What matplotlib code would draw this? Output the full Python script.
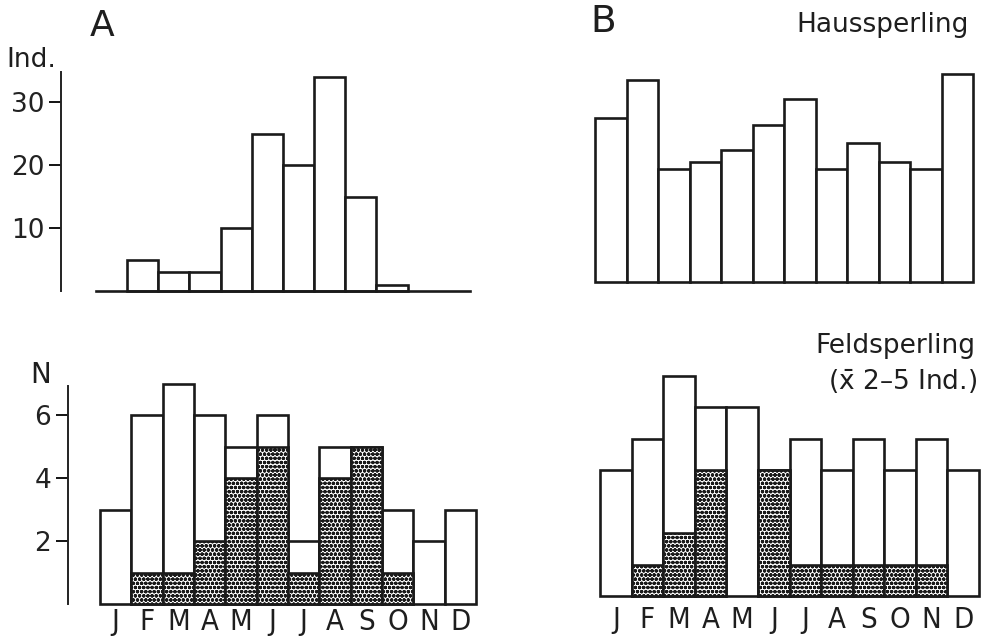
import matplotlib
matplotlib.use("Agg")
import matplotlib.pyplot as plt
import numpy as np

plt.rcParams["font.family"] = ["DejaVu Sans"]
plt.rcParams["mathtext.fontset"] = "dejavusans"
plt.rcParams["hatch.linewidth"] = 1.2

months = ["J", "F", "M", "A", "M", "J", "J", "A", "S", "O", "N", "D"]

# A: Haussperling individuals (Ind.)
a_ind = [0, 5, 3, 3, 10, 25, 20, 34, 15, 1, 0, 0]
# B: Haussperling, second site (same scale)
b_ind = [26, 32, 18, 19, 21, 25, 29, 18, 22, 19, 18, 33]
# bottom left: N total / hatched part
nl_total = [3, 6, 7, 6, 5, 6, 2, 5, 5, 3, 2, 3]
nl_hatch = [0, 1, 1, 2, 4, 5, 1, 4, 5, 1, 0, 0]
# bottom right: Feldsperling
nr_total = [4, 5, 7, 6, 6, 4, 5, 4, 5, 4, 5, 4]
nr_hatch = [0, 1, 2, 4, 0, 4, 1, 1, 1, 1, 1, 0]

W, H = 982, 639
fig = plt.figure(figsize=(W / 100, H / 100), dpi=100)
fig.patch.set_facecolor("white")


def make_ax(x0, x1, y_bot, y_top, xlim, ylim):
    ax = fig.add_axes([x0 / W, 1 - y_bot / H, (x1 - x0) / W, (y_bot - y_top) / H])
    ax.set_xlim(*xlim)
    ax.set_ylim(*ylim)
    ax.patch.set_alpha(0)
    for s in ax.spines.values():
        s.set_visible(False)
    ax.set_xticks([])
    ax.set_yticks([])
    return ax


def draw_bars(ax, total, hatched=None):
    x = np.arange(12)
    mask = np.array(total) > 0
    ax.bar(x[mask], np.array(total)[mask], width=1, align="edge", facecolor="white",
           edgecolor="#1a1a1a", linewidth=1.9, clip_on=False)
    if hatched is not None:
        hm = np.array(hatched) > 0
        ax.bar(x[hm], np.array(hatched)[hm], width=1, align="edge", facecolor="white",
               edgecolor="#1a1a1a", linewidth=1.9, hatch="oooo", clip_on=False)


def month_labels(ax, pad):
    ax.set_xticks(np.arange(12) + 0.5)
    ax.set_xticklabels(months, fontsize=21, fontstretch="condensed", color="#1e1e1e")
    ax.tick_params(axis="x", length=0, pad=pad)


def y_axis(ax, ticks):
    ax.spines["left"].set_visible(True)
    ax.spines["left"].set_linewidth(1.4)
    ax.spines["left"].set_color("#222222")
    ax.set_yticks(ticks)
    ax.set_yticklabels([str(t) for t in ticks], fontsize=19, color="#222222")
    ax.tick_params(axis="y", length=9, width=1.3, pad=3, direction="out")


# panel A
bw = 31.2
axA = make_ax(61, 470, 291, 72, (-35 / bw, 12), (0, 219 / 6.3))
draw_bars(axA, a_ind)
axA.plot([0, 12], [0, 0], color="#1a1a1a", lw=1.9, clip_on=False)
y_axis(axA, [10, 20, 30])

# panel B
axB = make_ax(595, 973, 282, 61, (0, 12), (0, 221 / 6.3))
draw_bars(axB, b_ind)

# bottom left
bw = 31.33
axL = make_ax(68, 476, 604, 386, (-32 / bw, 12), (0, 218 / 31.5))
draw_bars(axL, nl_total, nl_hatch)
y_axis(axL, [2, 4, 6])
month_labels(axL, 3)

# bottom right
axR = make_ax(600, 979, 596, 376, (0, 12), (0, 220 / 31.5))
draw_bars(axR, nr_total, nr_hatch)
month_labels(axR, 7)


def ftext(x, y, s, **kw):
    fig.text(x / W, 1 - y / H, s, color="#1e1e1e", **kw)


ftext(102, 26, "A", fontsize=26, ha="center", va="center")
ftext(6, 60, "Ind.", fontsize=19, ha="left", va="center")
ftext(603, 22, "B", fontsize=27, ha="center", va="center")
ftext(969, 32, "Haussperling", fontsize=19, ha="right", va="baseline")
ftext(41, 375, "N", fontsize=20, ha="center", va="center")
ftext(975, 353, "Feldsperling", fontsize=19, ha="right", va="baseline")
ftext(977, 390, r"($\bar{\mathrm{x}}$ 2–5 Ind.)", fontsize=19, ha="right", va="baseline")

fig.savefig("out.png", dpi=100, facecolor="white")
